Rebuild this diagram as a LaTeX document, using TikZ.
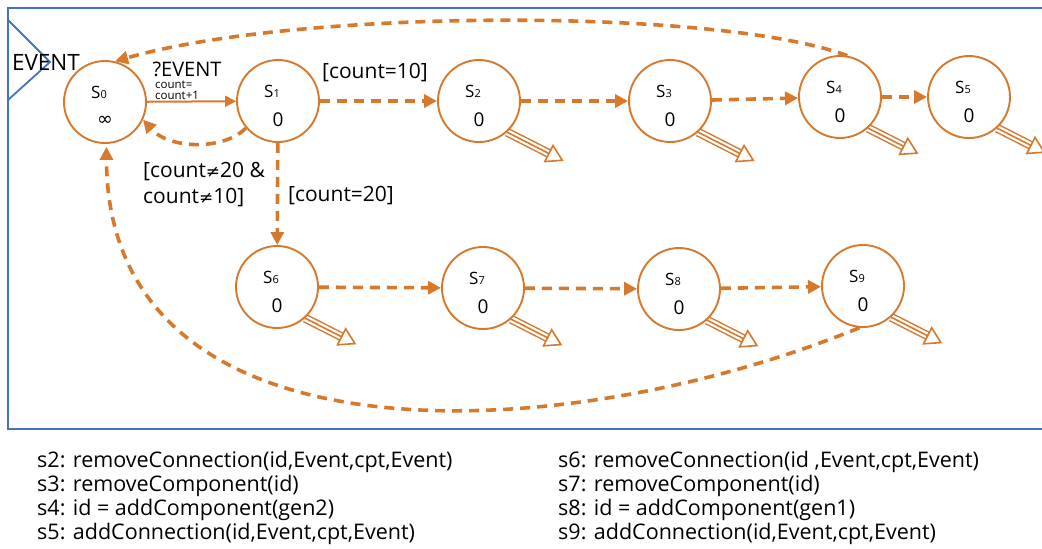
\documentclass[tikz,border=0pt]{standalone}
\usepackage{fontspec}
\setmainfont{Open Sans}
\newfontfamily\symfont{DejaVu Sans}
\usetikzlibrary{positioning, arrows.meta, calc, backgrounds}
\definecolor{stateorange}{RGB}{214,121,44}
\definecolor{frameblue}{RGB}{68,114,196}

\begin{document}
\begin{tikzpicture}[x=1pt, y=-1pt, >={Triangle[length=13pt, width=13pt]},
  state/.style={draw=stateorange, circle, line width=1.9pt, fill=white,
    minimum size=82pt, inner sep=0pt},
  sname/.style={font=\fontsize{17}{17}\selectfont, inner sep=0pt},
  sval/.style={font=\fontsize{19}{19}\selectfont, inner sep=0pt},
  trans/.style={->, stateorange, line width=3.6pt, dash pattern=on 10pt off 7pt},
  guard/.style={font=\fontsize{21}{26}\selectfont, align=left, inner sep=0pt},
  action/.style={font=\fontsize{21.5}{24}\selectfont, align=left,
    anchor=north west, inner sep=0pt},
  outshaft/.style={stateorange, line width=1.6pt,
    preaction={draw, stateorange, line width=9pt},
    preaction={draw, white, line width=6pt}},
  outhead/.style={draw=stateorange, fill=white, line width=1.6pt, line join=miter},
  frame/.style={draw=frameblue, line width=1.8pt}]

\useasboundingbox (0,0) rectangle (1042,549);
\clip (0,0) rectangle (1042,549);

% --- Frame and input event ---
\draw[frame] (1050,8) -| (8,429) -- (1050,429);
\draw[frame] (8,20) -- (50,62) -- (8,100);
\node[inner sep=0pt, font=\fontsize{22.5}{22.5}\selectfont] (evt) at (46,62) {EVENT};

% --- States ---
\foreach \i/\x/\y/\v in {0/105/102/{\symfont ∞}, 1/278/101/0, 2/479/101/0,
    3/670/101/0, 4/840/97/0, 5/969/97/0, 6/277/287/0, 7/483/288/0,
    8/679/289/0, 9/863/286/0} {
  \node[state] (s\i) at (\x,\y) {};
  \node[sname] (s\i-n) at (\x-6,\y-10) {S{\fontsize{11}{11}\selectfont\i}};
  \node[sval] (s\i-v) at (\x,\y+19) {\v};
}

% --- Output actions ---
\begin{scope}[on background layer]
  \foreach \i/\len in {2/47pt, 3/47pt, 4/40pt, 5/38pt, 6/41pt, 7/41pt, 8/41pt, 9/41pt}
    \draw[outshaft] (s\i.-48) -- ++(-27:\len) coordinate (s\i-b);
\end{scope}
\foreach \i in {2,...,9} {
  \path (s\i-b) ++(-27:15pt) coordinate (s\i-t);
  \draw[outhead] ($(s\i-b)!9pt!90:(s\i-t)$) -- (s\i-t)
    -- ($(s\i-b)!9pt!-90:(s\i-t)$) -- cycle;
}

% --- Trigger ---
\draw[->, stateorange, line width=2pt, >={Triangle[length=11pt, width=11pt]}] (s0) -- (s1);
\node[inner sep=0pt, font=\fontsize{20}{20}\selectfont] (trig) at (187,69) {?EVENT};
\node[inner sep=0pt, align=left, anchor=north west,
  font=\fontsize{11.5}{10.5}\selectfont] (upd) at (155,81) {count=\\count+1};

% --- Upper branch ---
\draw[trans] (s1) -- (s2);
\draw[trans] (s2) -- (s3);
\draw[trans] (s3) -- (s4);
\draw[trans] (s4) -- (s5);

% --- Lower branch ---
\draw[trans] (s1) -- (s6);
\draw[trans] (s6) -- (s7);
\draw[trans] (s7) -- (s8);
\draw[trans] (s8) -- (s9);

% --- Back to s0 ---
\draw[trans] (s1.-140) .. controls (225,150) and (170,150) .. (s0.-25);
\draw[trans] (s4.80) .. controls (720,8) and (300,8) .. (s0.76);
\draw[trans, shorten >=3pt] (s9.-95) .. controls (560,450) and (107,470) .. (s0.-88);

% --- Guards ---
\node[guard] (g10) at (375,73) {[count=10]};
\node[guard] (g20) at (341,196) {[count=20]};
\node[guard, anchor=west] (gelse) at (143,185)
  {[count{\symfont\fontsize{17}{17}\selectfont ≠}20 \&\\
   count{\symfont\fontsize{17}{17}\selectfont ≠}10]};

% --- Actions ---
\node[action] (act1) at (37,451) {s2: removeConnection(id,Event,cpt,Event)\\
  s3: removeComponent(id)\\s4: id = addComponent(gen2)\\
  s5: addConnection(id,Event,cpt,Event)};
\node[action] (act2) at (558,451) {s6: removeConnection(id ,Event,cpt,Event)\\
  s7: removeComponent(id)\\s8: id = addComponent(gen1)\\
  s9: addConnection(id,Event,cpt,Event)};

\end{tikzpicture}
\end{document}
